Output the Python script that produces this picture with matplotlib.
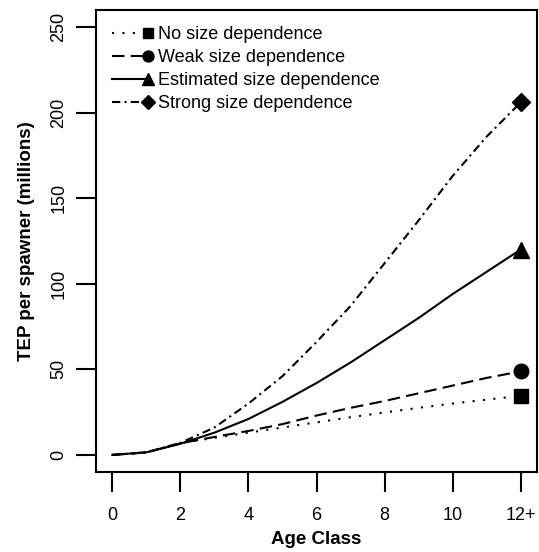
import matplotlib
matplotlib.use("Agg")
import matplotlib.pyplot as plt
from matplotlib.legend_handler import HandlerLine2DCompound

plt.rcParams['font.family'] = ['Liberation Sans', 'DejaVu Sans']

# TEP per spawner (millions) by age class under four size-dependence scenarios
ages = [0, 1, 2, 3, 4, 5, 6, 7, 8, 9, 10, 11, 12]
age_labels = ['0', '2', '4', '6', '8', '10', '12+']
no_size = [0, 1.5, 6.8, 10, 13, 16, 19, 22, 24.8, 27.5, 30, 32.3, 34.5]
weak_size = [0, 1.5, 6.8, 10.5, 14, 18, 23, 27.5, 31.5, 36, 40.5, 45, 48.8]
estimated_size = [0, 1.5, 6.5, 13, 21, 31, 42, 54, 67, 80, 94, 107, 120]
strong_size = [0, 1.5, 7, 16, 30, 46, 66, 87, 112, 137, 163, 186, 206]

names = ["No size dependence", "Weak size dependence",
         "Estimated size dependence", "Strong size dependence"]


class EndMarkerHandler(HandlerLine2DCompound):
    # put the legend symbol at the right end of the line sample
    def get_xdata(self, legend, xdescent, ydescent, width, height, fontsize):
        xdata, _ = super().get_xdata(legend, xdescent, ydescent, width, height, fontsize)
        return xdata, [-xdescent + width]


fig = plt.figure(figsize=(5.39, 5.52), dpi=100)
ax = fig.add_axes([0.1781, 0.1449, 0.8182, 0.8370])

lw = 1.5
series = [
    (no_size, (0, (1, 4)), 's', 10),
    (weak_size, (0, (6, 3)), 'o', 10.5),
    (estimated_size, '-', '^', 12),
    (strong_size, (0, (4, 2, 1, 2)), 'D', 9),
]
handles = []
for vals, ls, mk, ms in series:
    ax.plot(ages, vals, color='black', lw=lw, linestyle=ls)
    ax.plot(ages[-1], vals[-1], color='black', marker=mk, ms=ms, linestyle='none')
    h, = ax.plot([], [], color='black', lw=lw, linestyle=ls, marker=mk, ms=ms)
    handles.append(h)

ax.set_xlim(-0.48, 12.48)
ax.set_ylim(-10, 260)
ax.set_xticks(range(0, 13, 2))
ax.set_xticklabels(age_labels)
ax.set_yticks(range(0, 251, 50))
for lab in ax.get_yticklabels():
    lab.set_rotation(90)
    lab.set_va('center')

ax.tick_params(axis='both', direction='out', length=14.5, width=1.5,
               labelsize=13, color='black')
ax.tick_params(axis='x', pad=11)
ax.tick_params(axis='y', pad=6)
for s in ax.spines.values():
    s.set_linewidth(1.5)

ax.set_xlabel("Age Class", fontsize=13.5, fontweight='bold', labelpad=5)
ax.set_ylabel("TEP per spawner (millions)", fontsize=13.5, fontweight='bold', labelpad=11)

hmap = {h: EndMarkerHandler(numpoints=1) for h in handles}
ax.legend(handles, names, loc='upper left', bbox_to_anchor=(0.02, 0.98),
          frameon=False, fontsize=13, handlelength=2.0, handletextpad=0.55,
          markerscale=0.75, labelspacing=0.33, borderaxespad=0.0,
          handler_map=hmap)

fig.savefig("out.png", dpi=100)
